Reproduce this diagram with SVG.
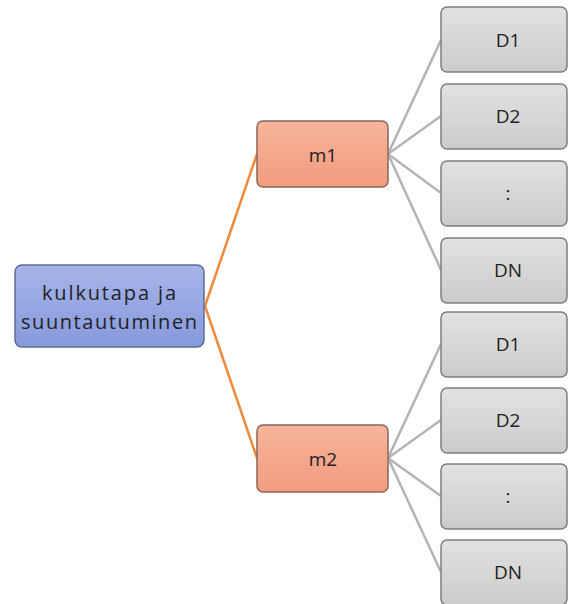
<svg xmlns="http://www.w3.org/2000/svg" width="570" height="604" viewBox="0 0 570 604">
<defs>
<linearGradient id="gB" x1="0" y1="0" x2="0" y2="1"><stop offset="0" stop-color="#a6b4ea"/><stop offset="1" stop-color="#8699db"/></linearGradient>
<linearGradient id="gM" x1="0" y1="0" x2="0" y2="1"><stop offset="0" stop-color="#f7b49c"/><stop offset="1" stop-color="#f29c7e"/></linearGradient>
<linearGradient id="gD" x1="0" y1="0" x2="0" y2="1"><stop offset="0" stop-color="#e2e2e2"/><stop offset="1" stop-color="#cbcbcb"/></linearGradient>
</defs>
<style>
text{font-family:"Open Sans","DejaVu Sans",sans-serif;fill:#222;text-anchor:middle;dominant-baseline:central}
.root{fill:url(#gB);stroke:#5d6c9a;stroke-width:1.5}
.m{fill:url(#gM);stroke:#8a6658;stroke-width:1.5}
.d{fill:url(#gD);stroke:#7e7e7e;stroke-width:1.5}
.o{stroke:#ee8a3c;stroke-width:2.5;fill:none}
.g{stroke:#b4b4b4;stroke-width:2.5;fill:none}
</style>
<g id="connectors">
<line class="o" x1="205" y1="306" x2="257" y2="154"/>
<line class="o" x1="205" y1="306" x2="257" y2="458"/>
<line class="g" x1="388" y1="154" x2="441" y2="40"/>
<line class="g" x1="388" y1="154" x2="441" y2="116"/>
<line class="g" x1="388" y1="154" x2="441" y2="193"/>
<line class="g" x1="388" y1="154" x2="441" y2="270"/>
<line class="g" x1="388" y1="458" x2="441" y2="344"/>
<line class="g" x1="388" y1="458" x2="441" y2="420"/>
<line class="g" x1="388" y1="458" x2="441" y2="496"/>
<line class="g" x1="388" y1="458" x2="441" y2="572"/>
</g>
<g id="root">
<rect class="root" x="15" y="265" width="189" height="82" rx="7"/>
<text x="109" y="292" font-size="20" textLength="134">kulkutapa ja</text>
<text x="109" y="321" font-size="20" textLength="176">suuntautuminen</text>
</g>
<g id="m1">
<rect class="m" x="257" y="121" width="131" height="66" rx="6"/>
<text x="323" y="155" font-size="19">m1</text>
</g>
<g id="m2">
<rect class="m" x="257" y="425" width="131" height="67" rx="6"/>
<text x="323" y="459" font-size="19">m2</text>
</g>
<g id="d1a"><rect class="d" x="441" y="7" width="126" height="65" rx="6"/><text x="508" y="40" font-size="19">D1</text></g>
<g id="d2a"><rect class="d" x="441" y="84" width="126" height="65" rx="6"/><text x="508" y="116" font-size="19">D2</text></g>
<g id="dda"><rect class="d" x="441" y="161" width="126" height="65" rx="6"/><text x="508" y="193" font-size="19">:</text></g>
<g id="dna"><rect class="d" x="441" y="238" width="126" height="65" rx="6"/><text x="508" y="270" font-size="19">DN</text></g>
<g id="d1b"><rect class="d" x="441" y="312" width="126" height="65" rx="6"/><text x="508" y="344" font-size="19">D1</text></g>
<g id="d2b"><rect class="d" x="441" y="388" width="126" height="65" rx="6"/><text x="508" y="420" font-size="19">D2</text></g>
<g id="ddb"><rect class="d" x="441" y="464" width="126" height="65" rx="6"/><text x="508" y="496" font-size="19">:</text></g>
<g id="dnb"><rect class="d" x="441" y="540" width="126" height="65" rx="6"/><text x="508" y="572" font-size="19">DN</text></g>
</svg>
